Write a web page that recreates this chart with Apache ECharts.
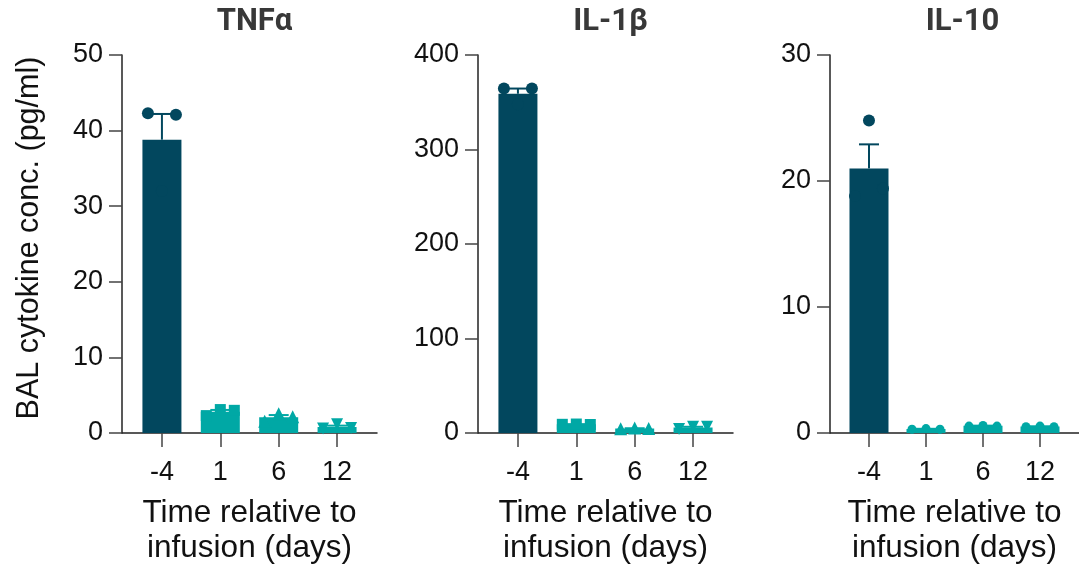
<!DOCTYPE html>
<html>
<head>
<meta charset="utf-8">
<script src="https://cdn.jsdelivr.net/npm/echarts@6/dist/echarts.min.js"></script>
<style>
  html, body { margin: 0; padding: 0; background: #fff; }
  #chart { width: 1079px; height: 571px; }
</style>
</head>
<body>
<div id="chart"></div>
<script>
// ---- data ----
const categories = ['-4', '1', '6', '12'];
const panelTitles = ['TNFα', 'IL-1β', 'IL-10'];
const yAxisTitle = 'BAL cytokine conc. (pg/ml)';
const xAxisTitle = 'Time relative to\ninfusion (days)';
const yMax = [50, 400, 30];
const yInterval = [10, 100, 10];
// individual points per day (3 animals)
const tnfPoints  = [[42.3, 32.0, 42.1], [2.3, 3.1, 3.0], [1.55, 2.55, 2.15], [0.6, 1.15, 0.65]];
const il1bPoints = [[364.5, 348.0, 364.5], [9.2, 9.5, 9.0], [4.5, 5.2, 4.8], [4.2, 6.6, 6.6]];
const il10Points = [[18.8, 24.8, 19.4], [0.3, 0.35, 0.3], [0.55, 0.6, 0.55], [0.5, 0.55, 0.5]];
const panelPoints = [tnfPoints, il1bPoints, il10Points];

// ---- style ----
const DARK = '#02475e';
const TEAL = '#00a8a5';
const AXIS = '#222';
const FONT = 'Liberation Sans';
const gridLeft = [122, 478, 830];
const gridWidth = 255;
const gridTop = 55;
const gridHeight = 383;
const jitter = [-14, 0, 14];
const shapes = ['circle', 'rect', 'triangle', 'triangle'];
const rotations = [0, 0, 0, 180];
const sizes = [12, 11, 13, 12];

function mean(a) { return a.reduce((s, v) => s + v, 0) / a.length; }
function sem(a) {
  const m = mean(a);
  const sd = Math.sqrt(a.reduce((s, v) => s + (v - m) * (v - m), 0) / (a.length - 1));
  return sd / Math.sqrt(a.length);
}
const colorOf = i => (i === 0 ? DARK : TEAL);

const grids = [], xAxes = [], yAxes = [], series = [], titles = [];

panelPoints.forEach((pts, p) => {
  grids.push({ left: gridLeft[p], width: gridWidth, top: gridTop, height: gridHeight, containLabel: false });
  titles.push({
    text: panelTitles[p],
    left: gridLeft[p] + gridWidth / 2,
    top: 2,
    textAlign: 'center',
    textStyle: { fontFamily: 'Roboto', fontWeight: 'bold', fontSize: 31, color: '#383838' }
  });
  xAxes.push({
    gridIndex: p,
    type: 'value',
    min: -0.684,
    max: 3.684,
    splitLine: { show: false },
    axisLine: { show: true, onZero: false, lineStyle: { color: AXIS, width: 1.5 } },
    axisTick: { show: true, customValues: [0, 1, 2, 3], length: 14, lineStyle: { color: '#444', width: 1.5 } },
    axisLabel: {
      customValues: [0, 1, 2, 3],
      formatter: v => categories[Math.round(v)],
      fontFamily: FONT, fontSize: 27, color: '#111', margin: 26
    },
    name: xAxisTitle,
    nameLocation: 'middle',
    nameGap: 63,
    nameTextStyle: { fontFamily: FONT, fontSize: 31.5, color: '#111', lineHeight: 35 }
  });
  yAxes.push({
    gridIndex: p,
    type: 'value',
    min: 0,
    max: yMax[p],
    interval: yInterval[p],
    splitLine: { show: false },
    axisLine: { show: true, onZero: false, lineStyle: { color: AXIS, width: 1.5 } },
    axisTick: { show: true, length: 13, lineStyle: { color: '#444', width: 1.5 } },
    axisLabel: { fontFamily: FONT, fontSize: 27, color: '#111', margin: 19 },
    name: p === 0 ? yAxisTitle : '',
    nameLocation: 'middle',
    nameRotate: 90,
    nameGap: 77,
    nameTextStyle: { fontFamily: FONT, fontSize: 30.5, color: '#111', padding: [0, 0, 0, 12] }
  });

  // bars (means)
  series.push({
    type: 'bar',
    xAxisIndex: p, yAxisIndex: p,
    barWidth: 39,
    z: 2,
    data: pts.map((a, i) => ({ value: [i, mean(a)], itemStyle: { color: colorOf(i) } }))
  });
  // error bars (mean + SEM, upper only)
  series.push({
    type: 'custom',
    xAxisIndex: p, yAxisIndex: p,
    z: 3,
    encode: { x: 0, y: [1, 2] },
    data: pts.map((a, i) => [i, mean(a), mean(a) + sem(a)]),
    renderItem: (params, api) => {
      const i = api.value(0);
      const lo = api.coord([i, api.value(1)]);
      const hi = api.coord([i, api.value(2)]);
      const col = colorOf(i);
      const half = 10;
      return {
        type: 'group',
        children: [
          { type: 'line', shape: { x1: lo[0], y1: lo[1], x2: hi[0], y2: hi[1] }, style: { stroke: col, lineWidth: 2 } },
          { type: 'line', shape: { x1: hi[0] - half, y1: hi[1], x2: hi[0] + half, y2: hi[1] }, style: { stroke: col, lineWidth: 2 } }
        ]
      };
    }
  });
  // individual points
  const scatterData = [];
  pts.forEach((a, i) => {
    a.forEach((v, j) => {
      const shape = p === 2 ? 'circle' : shapes[i];
      const size = p === 2 ? (i === 0 ? 12 : 9) : sizes[i];
      scatterData.push({
        value: [i, v],
        symbol: shape,
        symbolSize: size,
        symbolRotate: p === 2 ? 0 : rotations[i],
        symbolOffset: [jitter[j], 0],
        itemStyle: { color: colorOf(i), opacity: 1 }
      });
    });
  });
  series.push({
    type: 'scatter',
    xAxisIndex: p, yAxisIndex: p,
    z: 4,
    data: scatterData
  });
});

const chart = echarts.init(document.getElementById('chart'), null, { renderer: 'canvas' });
chart.setOption({
  animation: false,
  backgroundColor: '#fff',
  title: titles,
  grid: grids,
  xAxis: xAxes,
  yAxis: yAxes,
  series: series
});
</script>
</body>
</html>
